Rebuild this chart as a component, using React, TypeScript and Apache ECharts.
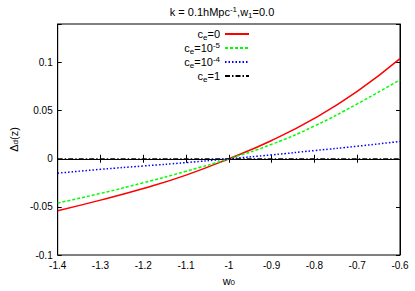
import React, { useEffect, useRef } from "react";
import * as echarts from "echarts";

const w0Values = [-1.4, -1.3, -1.2, -1.1, -1.0, -0.9, -0.8, -0.7, -0.6];
const ce0 = [-0.054, -0.043, -0.031, -0.017, 0, 0.019, 0.042, 0.07, 0.104];
const ce1e5 = [-0.046, -0.036, -0.025, -0.013, 0, 0.015, 0.034, 0.057, 0.082];
const ce1e4 = [-0.015, -0.011, -0.0075, -0.004, 0, 0.004, 0.0085, 0.013, 0.018];
const ce1 = [0, 0, 0, 0, 0, 0, 0, 0, 0];
const yTicks = [-0.1, -0.05, 0, 0.05, 0.1];

const seriesNames = ["ce=0", "ce=10-5", "ce=10-4", "ce=1"];
const legendRich: Record<string, string> = {
  "ce=0": "c{sub|e}=0",
  "ce=10-5": "c{sub|e}=10{sup|-5}",
  "ce=10-4": "c{sub|e}=10{sup|-4}",
  "ce=1": "c{sub|e}=1",
};

const FONT = "'Liberation Sans', Arial, sans-serif";

const richStyles = {
  sub: { fontSize: 8, lineHeight: 5, verticalAlign: "bottom", fontFamily: FONT, color: "#000" },
  sup: { fontSize: 8, lineHeight: 3, verticalAlign: "top", fontFamily: FONT, color: "#000" },
};

function pairs(ys: number[]) {
  return w0Values.map((x, i) => [x, ys[i]]);
}

export default function App() {
  const ref = useRef<HTMLDivElement>(null);
  useEffect(() => {
    if (!ref.current) return;
    const chart = echarts.init(ref.current, null, { renderer: "svg" });
    const axisLine = { show: true, lineStyle: { color: "#000", width: 1 } };
    const tick = { show: true, inside: true, length: 4, lineStyle: { color: "#000" } };
    chart.setOption({
      animation: false,
      backgroundColor: "#fff",
      title: {
        text: "k = 0.1hMpc{sup|-1},w{sub|1}=0.0",
        left: 222,
        textAlign: "center",
        top: 5,
        padding: 0,
        textStyle: {
          fontFamily: FONT,
          fontSize: 11,
          fontWeight: "normal",
          color: "#000",
          lineHeight: 14,
          rich: richStyles,
        },
      },
      legend: {
        orient: "vertical",
        right: 165,
        top: 27,
        padding: 0,
        align: "right",
        itemWidth: 24,
        itemHeight: 8,
        itemGap: 0,
        itemStyle: { opacity: 0 },
        data: seriesNames,
        formatter: (name: string) => legendRich[name],
        textStyle: {
          fontFamily: FONT,
          fontSize: 11,
          color: "#000",
          lineHeight: 14,
          padding: [0, 0, 0, 0],
          rich: richStyles,
        },
      },
      grid: { left: 45, right: 15, top: 24, bottom: 35, show: true, borderColor: "#000", borderWidth: 1 },
      xAxis: [
        {
          type: "value",
          min: -1.4,
          max: -0.6,
          interval: 0.1,
          position: "bottom",
          axisLine,
          axisTick: tick,
          splitLine: { show: false },
          axisLabel: { fontFamily: FONT, fontSize: 10, color: "#000", margin: 5 },
          name: "w{sub|0}",
          nameLocation: "middle",
          nameGap: 20,
          nameTextStyle: { fontFamily: FONT, fontSize: 11, color: "#000", rich: richStyles },
        },
        {
          type: "value",
          min: -1.4,
          max: -0.6,
          interval: 0.1,
          position: "top",
          axisLine,
          axisTick: tick,
          splitLine: { show: false },
          axisLabel: { show: false },
        },
      ],
      yAxis: [
        {
          type: "value",
          min: -0.1,
          max: 0.14,
          interval: 0.05,
          position: "left",
          axisLine,
          axisTick: tick,
          splitLine: { show: false },
          axisLabel: {
            fontFamily: FONT,
            fontSize: 10,
            color: "#000",
            margin: 5,
            formatter: (v: number) => {
              const t = yTicks.find((y) => Math.abs(y - v) < 1e-9);
              return t === undefined ? "" : String(t);
            },
          },
          name: "Δ{sub|d}(z)",
          nameLocation: "middle",
          nameGap: 34,
          nameTextStyle: { fontFamily: FONT, fontSize: 11, color: "#000", rich: richStyles },
        },
        {
          type: "value",
          min: -0.1,
          max: 0.14,
          interval: 0.05,
          position: "right",
          axisLine,
          axisTick: tick,
          splitLine: { show: false },
          axisLabel: { show: false },
        },
      ],
      series: [
        {
          name: seriesNames[0],
          type: "line",
          data: pairs(ce0),
          smooth: true,
          symbol: "none",
          lineStyle: { color: "#ff0000", width: 1.5, type: "solid" },
          itemStyle: { color: "#ff0000" },
        },
        {
          name: seriesNames[1],
          type: "line",
          data: pairs(ce1e5),
          smooth: true,
          symbol: "none",
          lineStyle: { color: "#00ff00", width: 1.5, type: [3, 2] },
          itemStyle: { color: "#00ff00" },
        },
        {
          name: seriesNames[2],
          type: "line",
          data: pairs(ce1e4),
          smooth: true,
          symbol: "none",
          lineStyle: { color: "#0000ff", width: 1.5, type: [1.5, 2] },
          itemStyle: { color: "#0000ff" },
        },
        {
          name: seriesNames[3],
          type: "line",
          data: pairs(ce1),
          symbol: "none",
          lineStyle: { color: "#000000", width: 1.2, type: [5, 2, 1.5, 2] },
          itemStyle: { color: "#000000" },
        },
      ],
    });
    return () => chart.dispose();
  }, []);
  return <div ref={ref} style={{ position: "fixed", left: 0, top: 0, width: 415, height: 291 }} />;
}
